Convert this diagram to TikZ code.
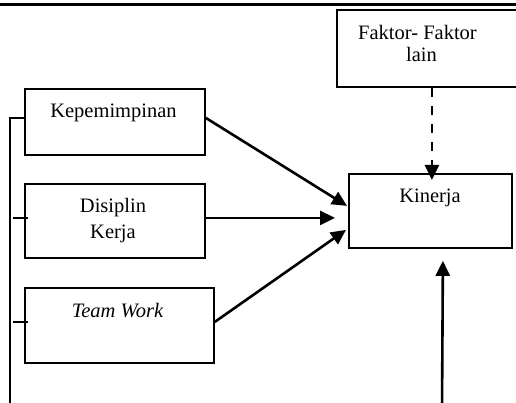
\documentclass[tikz,border=0pt]{standalone}
\usepackage{fontspec}
\setmainfont{Liberation Serif}
\usetikzlibrary{arrows.meta}
\begin{document}
\begin{tikzpicture}[x=1pt,y=-1pt,
  box/.style={draw, line width=1.8pt, inner sep=0pt, anchor=north west},
  txt/.style={font=\fontsize{20.5}{24}\selectfont, inner sep=0pt, anchor=base},
  arr/.style={line width=2.6pt, -{Triangle[length=15pt,width=14pt]}},
  thin/.style={line width=1.5pt}]
\useasboundingbox (0,0) rectangle (516,403);
\clip (0,0) rectangle (516,403);
\coordinate (tl) at (0,4.5);
\coordinate (tr) at (516,4.5);
\draw[line width=2.4pt] (tl) -- (tr);
% boxes
\node[box, minimum width=180pt, minimum height=66pt] (kep) at (24,88) {};
\node[box, minimum width=180pt, minimum height=74pt] (dis) at (24,183) {};
\node[box, minimum width=189pt, minimum height=75pt] (team) at (24,287) {};
\node[box, minimum width=163pt, minimum height=74pt] (kin) at (348,173) {};
\node[box, minimum width=200pt, minimum height=77pt] (fak) at (336,9) {};
% texts
\node[txt] (kept) at (113.5,117.5) {Kepemimpinan};
\node[txt] (dist1) at (113,213) {Disiplin};
\node[txt] (dist2) at (113,238) {Kerja};
\node[txt, font=\fontsize{20.5}{24}\selectfont\itshape] (teamt) at (117.5,317) {Team Work};
\node[txt] (kint) at (430,203) {Kinerja};
\node[txt] (fakt1) at (417.5,40) {Faktor- Faktor};
\node[txt] (fakt2) at (421.5,62) {lain};
% arrows
\draw[arr] ([yshift=4pt]kep.east) -- ([xshift=-1pt,yshift=5pt]kin.west);
\draw[arr] ([yshift=3pt]dis.east) -- ([xshift=-13pt,yshift=-7pt]kin.west);
\draw[arr] ([yshift=3.5pt]team.east) -- ([xshift=-2pt,yshift=-19pt]kin.west);
\draw[arr, dash pattern=on 9pt off 9pt] ([xshift=-5pt]fak.south) -- ([xshift=1.5pt,yshift=-7pt]kin.north);
\coordinate (bot) at (442,410);
\draw[arr] (bot) -- ([xshift=12.5pt,yshift=-12pt]kin.south);
% left bracket
\coordinate (lb) at (10,410);
\draw[thin] ([yshift=4pt]kep.west) -| (lb);
\draw[thin] ([xshift=4pt,yshift=3pt]dis.west) -- ++(-15,0);
\draw[thin] ([xshift=4pt,yshift=3.5pt]team.west) -- ++(-15,0);
\end{tikzpicture}
\end{document}
